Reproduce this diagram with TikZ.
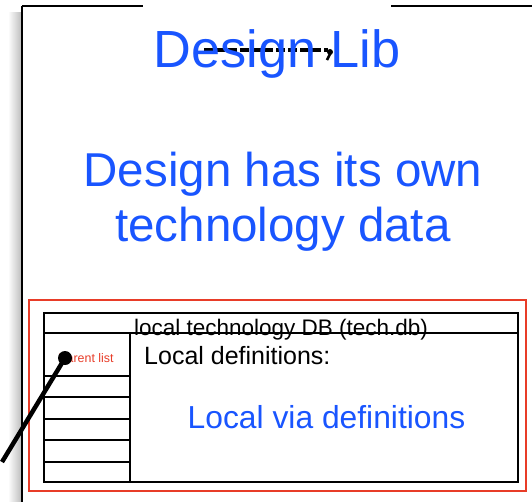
\documentclass[tikz,border=0pt]{standalone}
\usepackage{fontspec}
\setmainfont{Liberation Sans}
\definecolor{tblue}{RGB}{25,85,255}
\definecolor{tred}{RGB}{232,60,40}
\begin{document}
\begin{tikzpicture}[x=1pt,y=-1pt,
  frame/.style={draw=black,line width=2.6pt},
  grid/.style={draw=black,line width=2.4pt},
  bluetxt/.style={text=tblue,inner sep=0pt,anchor=base},
  blacktxt/.style={text=black,inner sep=0pt,anchor=base}]
\useasboundingbox (0,0) rectangle (532,501);
\fill[white] (0,0) rectangle (532,501);
% shadow
\shade[left color=white,right color=black!25] (8,12) rectangle (21,501);
% outer frame
\draw[frame] (22,6) -- (22,505);
\draw[frame] (22,6) -- (540,6);
\fill[white] (143,0) rectangle (391,14);
% covered dashed stroke
\draw[line width=4pt,dash pattern=on 9pt off 3pt] (204,50) -- (328,50);
\fill (330,52) circle (3pt);
\draw[line width=2.6pt] (331,52) -- (327,60);
% titles
\node[bluetxt,font=\fontsize{52.3}{52.3}\selectfont] (title) at (277,67) {Design Lib};
\node[bluetxt,font=\fontsize{47.5}{47.5}\selectfont] (l1) at (283,186) {Design has its own};
\node[bluetxt,font=\fontsize{47.5}{47.5}\selectfont] (l2) at (283,241) {technology data};
% red box
\draw[tred,line width=2.2pt] (29,300) rectangle (526,491);
% table
\draw[grid] (44,313) rectangle (518,482);
\draw[grid] (44,333) -- (518,333);
\draw[grid] (130,333) -- (130,482);
\foreach \yy in {376,397,419,440,462} \draw[grid] (44,\yy) -- (130,\yy);
\node[blacktxt,font=\fontsize{22.5}{22.5}\selectfont] (hdr) at (281,335) {local technology DB (tech.db)};
\node[blacktxt,anchor=base west,font=\fontsize{25}{25}\selectfont] (locdef) at (144,364) {Local definitions:};
\node[bluetxt,font=\fontsize{31.8}{31.8}\selectfont] (via) at (326.5,428) {Local via definitions};
\node[text=tred,inner sep=0pt,anchor=base,font=\fontsize{12.4}{12.4}\selectfont] (plist) at (86,362) {Parent list};
% pointer
\node[circle,fill=black,minimum size=14pt,inner sep=0pt] (dot) at (65,358) {};
\coordinate (tail) at (2,462);
\draw[line width=4.5pt] (dot.center) -- (tail);
\end{tikzpicture}
\end{document}
